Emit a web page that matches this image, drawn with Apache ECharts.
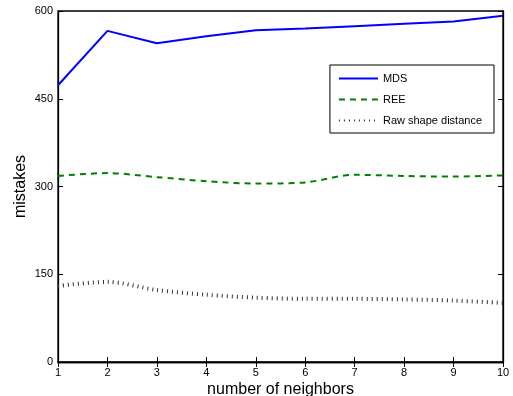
<!DOCTYPE html>
<html><head><meta charset="utf-8">
<script src="https://cdn.jsdelivr.net/npm/echarts@6/dist/echarts.min.js"></script>
<style>html,body{margin:0;padding:0;background:#fff}#c{width:513px;height:396px}</style>
</head><body><div id="c"></div>
<script>
var neighbors = [1,2,3,4,5,6,7,8,9,10];
var mds = [473,566,545,557,567,570,574,578,582,592];
var ree = [318,323,316,309,305,307,320,318,317,319];
var raw = [130,137,123,115,110,108,108,107,105,101];
var yTicks = [0,150,300,450,600];

function pairs(v){ return neighbors.map(function(x,i){ return [x, v[i]]; }); }
var font = 'Liberation Sans, Arial, sans-serif';
var chart = echarts.init(document.getElementById('c'), null, {renderer:'canvas'});
var tickStyle = {show:true, inside:true, length:5, lineStyle:{color:'#000', width:1}};
chart.setOption({
  animation:false,
  backgroundColor:'#fff',
  grid:{left:58, right:10, top:11, bottom:34, show:true, borderColor:'#000', borderWidth:1.3,
        containLabel:false, outerBoundsMode:'none'},
  legend:{
    orient:'vertical', right:19, top:65,
    data:['MDS','REE','Raw shape distance'],
    itemWidth:39, itemHeight:10, itemGap:10,
    padding:[8,12,7,8],
    itemStyle:{opacity:0},
    borderColor:'#000', borderWidth:1, backgroundColor:'#fff',
    textStyle:{fontFamily:font, fontSize:11, color:'#000'}
  },
  xAxis:[{
    type:'value', min:1, max:10, interval:1, position:'bottom',
    name:'number of neighbors', nameLocation:'middle', nameGap:20, nameMoveOverlap:false,
    nameTextStyle:{fontFamily:font, fontSize:16, color:'#000'},
    axisLine:{show:true, lineStyle:{color:'#000', width:1.3}},
    axisTick:tickStyle,
    axisLabel:{fontFamily:font, fontSize:11, color:'#000', margin:5},
    splitLine:{show:false}
  },{
    type:'value', min:1, max:10, interval:1, position:'top',
    axisLine:{show:true, lineStyle:{color:'#000', width:1.3}},
    axisTick:tickStyle, axisLabel:{show:false}, splitLine:{show:false}
  }],
  yAxis:[{
    type:'value', min:yTicks[0], max:yTicks[yTicks.length-1], interval:150, position:'left',
    name:'mistakes', nameLocation:'middle', nameGap:29, nameMoveOverlap:false,
    nameTextStyle:{fontFamily:font, fontSize:16, color:'#000'},
    axisLine:{show:true, lineStyle:{color:'#000', width:1.3}},
    axisTick:tickStyle,
    axisLabel:{fontFamily:font, fontSize:11, color:'#000', margin:5},
    splitLine:{show:false}
  },{
    type:'value', min:yTicks[0], max:yTicks[yTicks.length-1], interval:150, position:'right',
    axisLine:{show:true, lineStyle:{color:'#000', width:1.3}},
    axisTick:tickStyle, axisLabel:{show:false}, splitLine:{show:false}
  }],
  series:[
    {name:'MDS', type:'line', data:pairs(mds), symbol:'none', smooth:false,
     itemStyle:{color:'#0000ff'}, lineStyle:{color:'#0000ff', width:2}},
    {name:'REE', type:'line', data:pairs(ree), symbol:'none', smooth:0.3,
     itemStyle:{color:'#008000'}, lineStyle:{color:'#008000', width:2, type:[6,5]}},
    {name:'Raw shape distance', type:'line', data:pairs(raw), symbol:'none', smooth:0.3,
     itemStyle:{color:'#333'}, lineStyle:{color:'#333', width:4, type:[1,4], cap:'butt'}}
  ]
});
</script></body></html>
